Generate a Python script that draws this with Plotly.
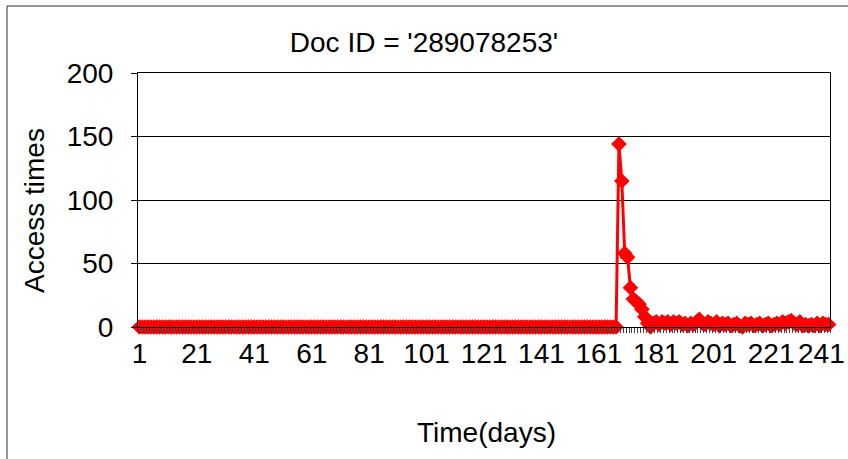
import plotly.graph_objects as go

# ---- data ----
days = list(range(1, 242))
access_times = [
    0, 0, 0, 0, 0, 0, 0, 0, 0, 0, 0, 0, 0, 0, 0, 0, 0, 0, 0, 0,   # 1-20
    0, 0, 0, 0, 0, 0, 0, 0, 0, 0, 0, 0, 0, 0, 0, 0, 0, 0, 0, 0,   # 21-40
    0, 0, 0, 0, 0, 0, 0, 0, 0, 0, 0, 0, 0, 0, 0, 0, 0, 0, 0, 0,   # 41-60
    0, 0, 0, 0, 0, 0, 0, 0, 0, 0, 0, 0, 0, 0, 0, 0, 0, 0, 0, 0,   # 61-80
    0, 0, 0, 0, 0, 0, 0, 0, 0, 0, 0, 0, 0, 0, 0, 0, 0, 0, 0, 0,   # 81-100
    0, 0, 0, 0, 0, 0, 0, 0, 0, 0, 0, 0, 0, 0, 0, 0, 0, 0, 0, 0,   # 101-120
    0, 0, 0, 0, 0, 0, 0, 0, 0, 0, 0, 0, 0, 0, 0, 0, 0, 0, 0, 0,   # 121-140
    0, 0, 0, 0, 0, 0, 0, 0, 0, 0, 0, 0, 0, 0, 0, 0, 0, 0, 0, 0,   # 141-160
    0, 0, 0, 0, 0, 0, 0, 144, 115, 58, 55, 31, 22, 20, 18, 14, 8, 3, 0, 3,  # 161-180
    4, 2, 4, 3, 4, 2, 4, 3, 4, 2, 3, 1, 3, 2, 4, 6, 3, 2, 4, 3,   # 181-200
    2, 4, 1, 3, 2, 3, 1, 2, 3, 1, 0, 3, 2, 3, 1, 2, 3, 1, 2, 3,   # 201-220
    1, 2, 3, 2, 4, 3, 4, 5, 3, 2, 4, 1, 2, 1, 2, 1, 3, 1, 3, 2,   # 221-240
    2,                                                             # 241
]
x_tick_vals = [1, 21, 41, 61, 81, 101, 121, 141, 161, 181, 201, 221, 241]
x_tick_text = ["1", "21", "41", "61", "81", "101", "121", "141", "161", "181", "201", "221", "241"]
y_tick_vals = [0, 50, 100, 150, 200]

FONT = "Liberation Sans, Arial, sans-serif"
FS = 28

fig = go.Figure()
fig.add_trace(go.Scatter(
    x=days, y=access_times, mode="lines+markers",
    line=dict(color="#ff0000", width=3),
    marker=dict(symbol="diamond", size=12, color="#ff0000"),
    cliponaxis=False, showlegend=False,
))

fig.update_layout(
    width=848, height=459,
    margin=dict(l=138, r=18, t=73, b=132, autoexpand=False),
    paper_bgcolor="white", plot_bgcolor="white",
    font=dict(family=FONT, size=FS, color="black"),
    title=dict(text="Doc ID = '289078253'", x=0.5, xref="container", xanchor="center",
               y=1 - 42 / 459, yref="container", yanchor="middle",
               font=dict(family=FONT, size=FS, color="black")),
    showlegend=False,
)

# all tick labels but the last go on the axis; the last one (at the very edge
# of the picture) is written as a right-anchored annotation so it stays inside
fig.update_xaxes(
    range=[0.5, 241.5], tickmode="array", tickvals=x_tick_vals[:-1], ticktext=x_tick_text[:-1],
    ticks="", showgrid=False, zeroline=False, automargin=False,
    showline=True, linecolor="black", linewidth=1, mirror=True,
    ticklabelstandoff=1,
    minor=dict(ticks="outside", ticklen=5, tickcolor="#404040", tickwidth=1,
               tickmode="linear", tick0=0.5, dtick=1, showgrid=False),
)
fig.add_annotation(text=x_tick_text[-1], x=(847 - 138) / 692, xref="paper",
                   y=(327 - 353) / 254, yref="paper", xanchor="right", yanchor="middle",
                   showarrow=False, font=dict(family=FONT, size=FS, color="black"))

fig.update_yaxes(
    range=[0, 200], tickmode="array", tickvals=y_tick_vals, automargin=False,
    ticks="outside", ticklen=6, tickcolor="black",
    showgrid=True, gridcolor="black", gridwidth=1, zeroline=False,
    showline=True, linecolor="black", linewidth=1, mirror=True,
    ticklabelstandoff=12,
)

fig.add_annotation(text="Access times", textangle=-90,
                   x=(35 - 138) / 692, y=(327 - 211) / 254,
                   xref="paper", yref="paper", xanchor="center", yanchor="middle",
                   showarrow=False, font=dict(family=FONT, size=FS, color="black"))
fig.add_annotation(text="Time(days)",
                   x=(486 - 138) / 692, y=(327 - 432) / 254,
                   xref="paper", yref="paper", xanchor="center", yanchor="middle",
                   showarrow=False, font=dict(family=FONT, size=FS, color="black"))

# outer chart border (left and top edges visible)
bx = (7 - 138) / 692
by = (327 - 6) / 254
fig.add_shape(type="line", xref="paper", yref="paper", x0=bx, x1=bx, y0=-2, y1=by,
              line=dict(color="#333333", width=1))
fig.add_shape(type="line", xref="paper", yref="paper", x0=bx, x1=2, y0=by, y1=by,
              line=dict(color="#333333", width=1))

fig.write_html("out.html")
